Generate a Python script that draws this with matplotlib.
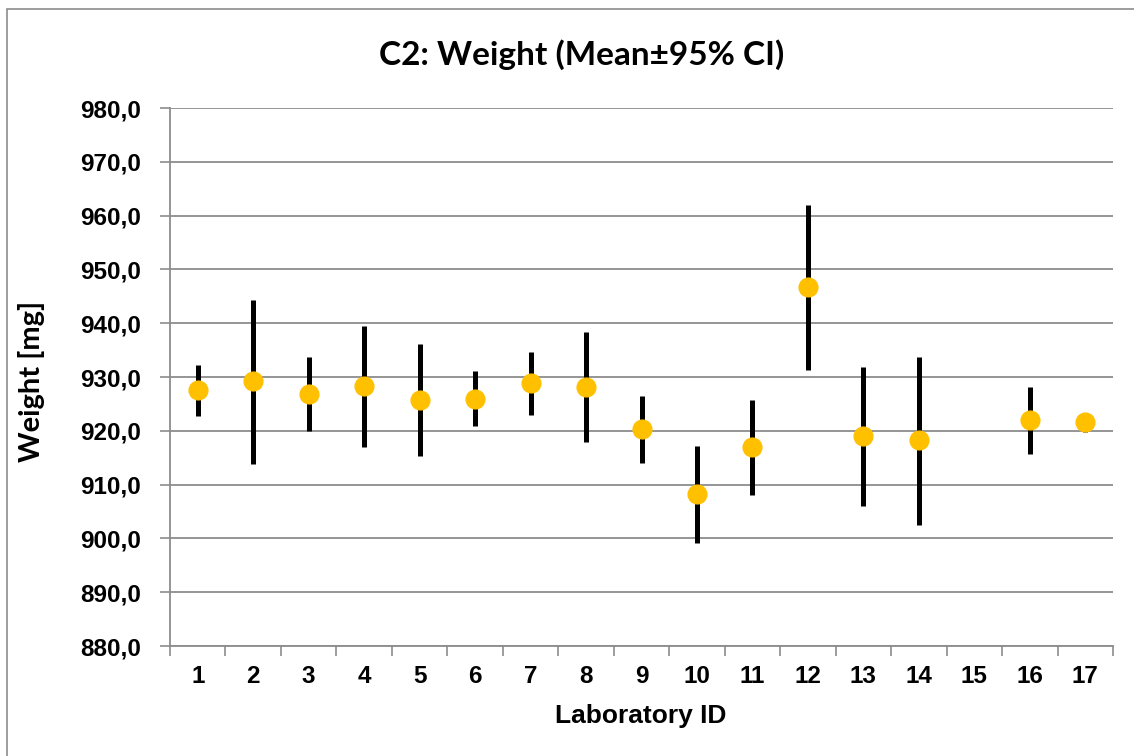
import numpy as np
import matplotlib
matplotlib.use("Agg")
import matplotlib.pyplot as plt
from matplotlib.patches import Rectangle

# ---- data ----
lab_ids = ["1", "2", "3", "4", "5", "6", "7", "8", "9", "10",
           "11", "12", "13", "14", "15", "16", "17"]
means = [927.6, 929.2, 926.9, 928.3, 925.8, 926.0, 928.8, 928.2, 920.3, 908.2,
         917.0, 946.8, 919.1, 918.3, np.nan, 922.0, 921.6]
ci_low = [922.7, 913.9, 920.0, 917.0, 915.4, 920.8, 923.0, 918.0, 914.1, 899.2,
          908.1, 931.3, 906.1, 902.5, np.nan, 915.7, 919.8]
ci_high = [932.3, 944.4, 933.8, 939.4, 936.2, 931.2, 934.7, 938.4, 926.5, 917.1,
           925.8, 962.0, 931.9, 933.7, np.nan, 928.1, 923.2]
y_ticks = [880, 890, 900, 910, 920, 930, 940, 950, 960, 970, 980]

title = "C2: Weight (Mean\u00b195% CI)"
x_label = "Laboratory ID"
y_label = "Weight [mg]"

# ---- figure ----
W, H = 1134, 756
fig = plt.figure(figsize=(W / 100, H / 100), dpi=100)
fig.patch.set_facecolor("white")

ax = fig.add_axes([170 / W, 1 - 646 / H, (1113 - 170) / W, (646 - 108) / H])

pos = np.arange(1, len(lab_ids) + 1)
m = np.array(means, dtype=float)
lo = np.array(ci_low, dtype=float)
hi = np.array(ci_high, dtype=float)

ax.vlines(pos, lo, hi, color="black", linewidth=3.6, zorder=3)
ax.plot(pos, m, linestyle="none", marker="o", markersize=13.5,
        markerfacecolor="#FFC000", markeredgecolor="#FFC000", zorder=4)

ax.set_xlim(0.5, len(lab_ids) + 0.5)
ax.set_ylim(880, 980)

grid_col = "#8C8C8C"
ax.set_yticks(y_ticks)
ax.set_yticklabels([f"{v:.1f}".replace(".", ",") for v in y_ticks],
                   fontsize=17.5, fontweight="bold", family="Liberation Sans")
ax.yaxis.grid(True, color=grid_col, linewidth=1.3)
ax.set_axisbelow(True)

ax.set_xticks(np.arange(0.5, len(lab_ids) + 1, 1.0))
ax.set_xticklabels([])
ax.set_xticks(pos, minor=True)
ax.set_xticklabels(lab_ids, minor=True, fontsize=17.5, fontweight="bold",
                   family="Liberation Sans")
ax.tick_params(axis="x", which="major", length=7, width=1.2, color=grid_col,
               direction="out")
ax.tick_params(axis="x", which="minor", length=0, pad=14)
ax.tick_params(axis="y", which="major", length=7, width=1.2, color=grid_col,
               direction="out", pad=14)

for s in ["top", "right"]:
    ax.spines[s].set_visible(False)
for s in ["left", "bottom"]:
    ax.spines[s].set_color(grid_col)
    ax.spines[s].set_linewidth(1.3)

fig.text(582 / W, 1 - 55 / H, title, ha="center", va="center",
         fontsize=24, fontweight="bold", family=["Lato", "DejaVu Sans"])
fig.text(641 / W, 1 - 716 / H, x_label, ha="center", va="center",
         fontsize=19, fontweight="bold", family="Liberation Sans")
fig.text(32 / W, 1 - 381 / H, y_label, ha="center", va="center",
         rotation=90, fontsize=21, fontweight="bold", family=["Lato", "DejaVu Sans"])

# outer chart border (right and bottom edges fall outside the image)
fig.patches.append(Rectangle((7 / W, -0.05), 1.2, 1 - 9 / H + 0.05,
                             transform=fig.transFigure, fill=False,
                             edgecolor="#8C8C8C", linewidth=1.2))

fig.savefig("out.png", dpi=100, facecolor="white")
